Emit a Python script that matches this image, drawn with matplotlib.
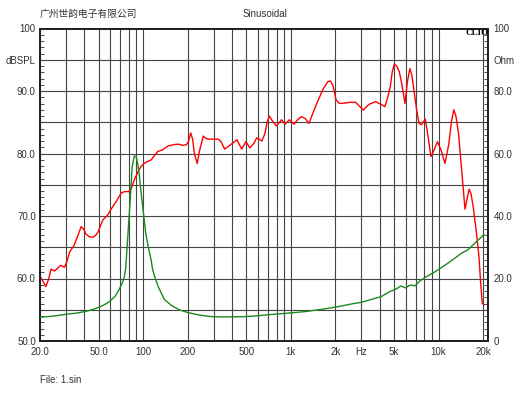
import matplotlib
matplotlib.use("Agg")
import matplotlib.pyplot as plt
import numpy as np

# SPL response (Hz, dB SPL)
spl_freq = [20, 21, 21.9, 22.8, 23.8, 25.1, 26.2, 27.6, 29.3, 30.5, 31.8, 33.9, 36.0, 38.0, 39.5,
            41.0, 43.0, 45.7, 48.0, 49.5, 53.4, 57.6, 61.0, 65.5, 71.1, 75.0, 79.9, 83.0, 87.0,
            92.3, 97.0, 102.6, 113.4, 125.1, 135.4, 147, 160, 172, 185, 195.7, 203, 209.5, 216,
            222, 232, 241, 255, 266, 277, 300, 322, 336, 356, 390, 431, 464, 496, 527, 560, 587,
            636, 667, 690, 714, 750, 796, 864, 915, 975, 1050, 1110, 1177, 1250, 1324, 1400, 1495,
            1650, 1780, 1853, 1930, 2021, 2100, 2197, 2513, 2740, 2900, 3098, 3250, 3400, 3747,
            4050, 4322, 4500, 4708, 4850, 5014, 5200, 5417, 5650, 5914, 6150, 6390, 6600, 6794,
            7100, 7367, 7643, 8128, 8450, 8876, 9300, 9823, 10400, 11046, 11739, 12200, 12666,
            13100, 13644, 14300, 15089, 15600, 16100, 16600, 17140, 18000, 18760, 19300, 19760,
            20300]
spl_db = [60.4, 59.5, 58.7, 59.8, 61.5, 61.2, 61.6, 62.1, 61.8, 62.8, 64.3, 65.2, 66.8, 68.3, 67.9,
          67.1, 66.7, 66.6, 67.0, 67.5, 69.4, 70.2, 71.2, 72.3, 73.7, 73.9, 73.9, 74.4, 75.8,
          77.1, 78.0, 78.5, 79.0, 80.3, 80.6, 81.2, 81.4, 81.5, 81.3, 81.4, 82.0, 83.3, 82.3,
          80.0, 78.4, 80.5, 82.8, 82.4, 82.3, 82.3, 82.3, 81.9, 80.7, 81.4, 82.2, 80.7, 81.9,
          80.9, 81.6, 82.5, 82.0, 83.2, 85.0, 86.0, 85.2, 84.4, 85.4, 84.7, 85.4, 84.7, 85.4,
          85.9, 85.6, 84.8, 86.3, 88.0, 90.3, 91.5, 91.6, 90.8, 88.6, 88.1, 88.0, 88.2, 88.2,
          87.6, 86.96, 87.5, 87.9, 88.3, 87.9, 87.5, 88.8, 90.7, 93.0, 94.3, 94.0, 93.1, 91.0,
          88.0, 91.5, 93.6, 92.5, 90.2, 87.0, 84.8, 84.6, 85.5, 83.0, 79.5, 80.5, 81.9, 80.5,
          78.4, 81.6, 85.0, 87.0, 86.0, 83.2, 77.5, 71.1, 72.8, 74.3, 73.5, 71.5, 67.5, 63.5,
          59.0, 56.0, 55.8]

# Impedance (Hz, Ohm)
imp_freq = [20, 25, 29.3, 35, 40.2, 45, 49.5, 55, 59.1, 65, 69.4, 72, 74, 76, 77, 79, 81.1, 84.2,
            87, 89.6, 92, 94.3, 97.5, 101, 104, 108, 113, 116, 119.8, 126, 132.6, 139, 154, 175,
            201, 240, 289, 350, 489, 600, 739, 900, 1241, 1600, 2090, 2600, 3004, 3500, 4094,
            4700, 4992, 5300, 5530, 5750, 5980, 6300, 6600, 6900, 7380, 8200, 9500, 11000,
            12540, 14200, 15900, 18060, 20300]
imp_ohm = [7.6, 8.0, 8.5, 8.9, 9.4, 10.0, 10.7, 11.7, 12.6, 14.5, 16.9, 18.5, 20.0, 23.0, 27, 35,
           43, 55.8, 59.2, 59.0, 56.5, 52.6, 46.0, 39.8, 34.5, 30.2, 26.0, 22.7, 20.5, 17.5, 15.3,
           13.3, 11.5, 10.0, 9.1, 8.3, 7.8, 7.7, 7.8, 8.1, 8.5, 8.8, 9.4, 10.1, 11.0, 11.9, 12.4,
           13.3, 14.2, 15.9, 16.3, 17.0, 17.6, 17.3, 17.0, 17.7, 17.9, 17.6, 19.0, 20.5, 22.2,
           24.2, 26.1, 28.0, 29.3, 31.8, 34.1]

x_tick_vals = [20, 50, 100, 200, 500, 1000, 2000, 3000, 5000, 10000, 20000]
x_tick_labels = ["20.0", "50.0", "100", "200", "500", "1k", "2k", "Hz", "5k", "10k", "20k"]
left_tick_vals = [50, 60, 70, 80, 90, 95, 100]
left_tick_labels = ["50.0", "60.0", "70.0", "80.0", "90.0", "dBSPL", "100"]
right_tick_vals = [0, 20, 40, 60, 80, 90, 100]
right_tick_labels = ["0", "20.0", "40.0", "60.0", "80.0", "Ohm", "100"]

FONT = "Liberation Sans"
TXT = "#333333"

fig = plt.figure(figsize=(5.30, 3.98), dpi=100)
ax = fig.add_axes([40/530, 1-341/398, 448/530, (341-28.5)/398])
ax.set_xscale("log")
ax.set_xlim(20, 21600)
ax.set_ylim(50, 100)

# grid
grid_f = [m * 10**e for e in range(1, 5) for m in range(1, 10)]
grid_f = [g for g in grid_f if 20 <= g <= 20000]
for g in grid_f:
    ax.axvline(g, color="#454545", lw=0.8, zorder=1)
for yv in np.arange(55, 100, 5):
    ax.axhline(yv, color="#454545", lw=0.8, zorder=1)

ax2 = ax.twinx()
ax2.set_ylim(0, 100)

ax.plot(spl_freq, spl_db, color="#ff0000", lw=1.0, zorder=3)
ax2.plot(imp_freq, imp_ohm, color="#1a8a1a", lw=1.0, zorder=3)

for a in (ax, ax2):
    for s in a.spines.values():
        s.set_color("#222222")
        s.set_linewidth(1.4)

ax.set_xticks(x_tick_vals)
ax.set_xticklabels(x_tick_labels, fontsize=7, color=TXT, family=FONT)
ax.xaxis.set_minor_locator(matplotlib.ticker.NullLocator())
ax.tick_params(axis="x", length=0, pad=4)

ax.set_yticks(left_tick_vals)
ax.set_yticklabels(left_tick_labels, fontsize=7, color=TXT, family=FONT)
ax.set_yticks(np.arange(50, 101, 1), minor=True)
ax.tick_params(axis="y", which="major", length=0, pad=3)
ax.tick_params(axis="y", which="minor", direction="in", length=3, width=0.6, color="#333333")

ax2.set_yticks(right_tick_vals)
ax2.set_yticklabels(right_tick_labels, fontsize=7, color=TXT, family=FONT)
ax2.set_yticks(np.arange(0, 101, 2), minor=True)
ax2.tick_params(axis="y", which="major", length=0, pad=4)
ax2.tick_params(axis="y", which="minor", direction="in", length=3, width=0.6, color="#333333")

fig.text(40/530, 1-14/398, "广州世韵电子有限公司", fontsize=7, color=TXT,
         family=["Noto Sans CJK SC", "DejaVu Sans"], ha="left", va="center")
fig.text(265/530, 1-14/398, "Sinusoidal", fontsize=7, color=TXT, family=FONT,
         ha="center", va="center")
fig.text(477/530, 1-33/398, "CLIO", fontsize=6.5, color="black", family="Liberation Serif",
         weight="bold", ha="center", va="center")
fig.text(40/530, 1-380/398, "File: 1.sin", fontsize=7, color=TXT, family=FONT,
         ha="left", va="center")

fig.savefig("out.png", dpi=100, facecolor="white")
